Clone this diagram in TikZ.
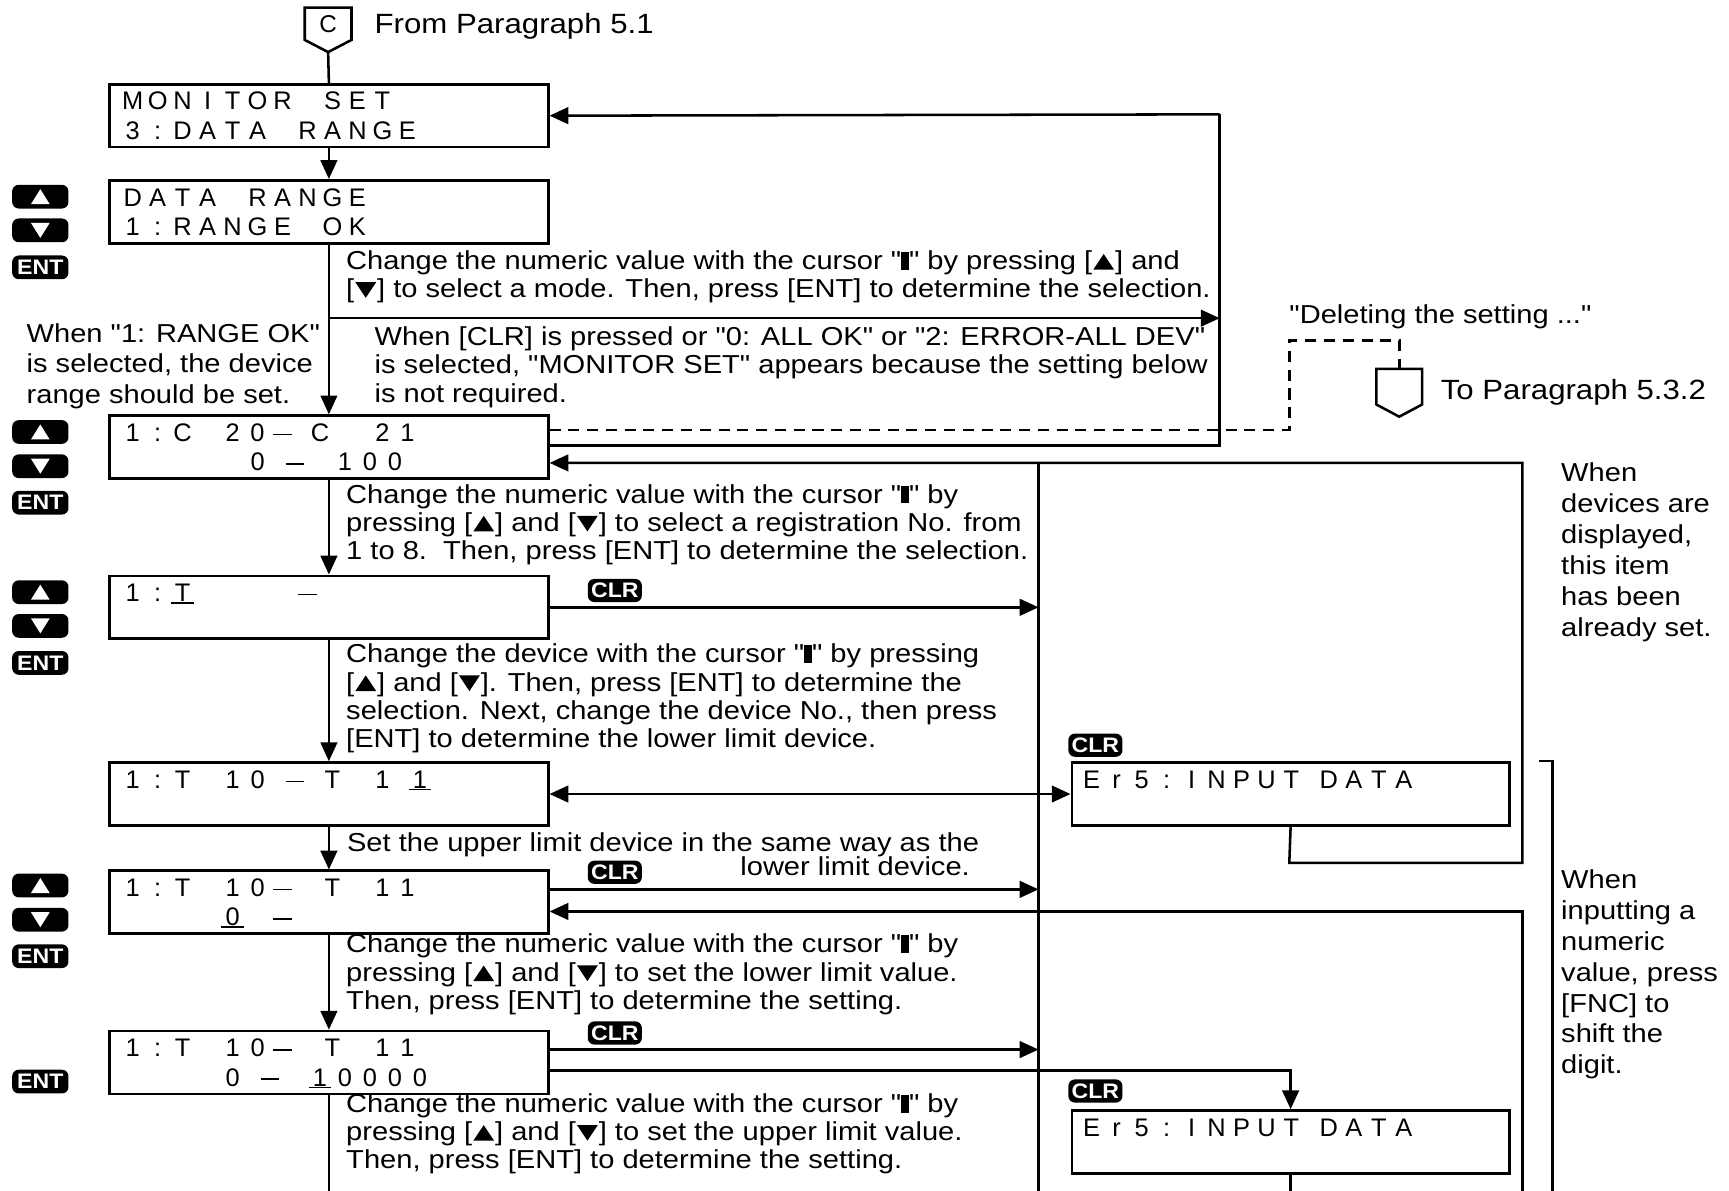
\documentclass[tikz,border=0pt]{standalone}
\usepackage{fontspec}
\setmainfont{Liberation Sans}
\newfontfamily\bodyfont{Liberation Sans}[FakeStretch=1.12]
\newfontfamily\lcdfont{Liberation Sans}
\newfontfamily\badgefont{Liberation Sans}[FakeStretch=1.1]
\usetikzlibrary{arrows.meta,calc}
\newlength\pitch \setlength\pitch{11.3pt}
\newcommand\hs{\hspace{0.5\pitch}}
\newcommand\dd{\rule[0.24em]{0.72em}{0.065em}}
\newcommand\cur[1]{\makebox[\pitch][c]{#1}\hspace{-\pitch}\makebox[\pitch][c]{\rule[-1pt]{0.9\pitch}{0.7pt}}}
\def\lcd#1{\lcdloop#1\relax}
\def\lcdloop#1{\ifx\relax#1\else\ifx\hs#1\hspace{0.5\pitch}\else\makebox[\pitch][c]{#1}\fi\expandafter\lcdloop\fi}
\newcommand\cursor{\rule{0.3em}{0.68em}}
\newcommand\tu{\kern0.04em\tikz[baseline=0pt,x=0.8em,y=0.6em,sharp corners]\fill[black](0,0)--(1,0)--(0.5,1)--cycle;\kern0.04em}
\newcommand\td{\kern0.04em\tikz[baseline=0pt,x=0.8em,y=0.6em,sharp corners]\fill[black](0,1)--(1,1)--(0.5,0)--cycle;\kern0.04em}
\newcommand\ku{\tikz[x=8.5pt,y=6.8pt,sharp corners]\fill[white](0,0)--(1,0)--(0.5,1)--cycle;}
\newcommand\kd{\tikz[x=8.5pt,y=6.8pt,sharp corners]\fill[white](0,1)--(1,1)--(0.5,0)--cycle;}
\newcommand\lines[1]{\begin{tabular}[t]{@{}l@{}}#1\end{tabular}}
\begin{document}
\begin{tikzpicture}[x=0.5pt,y=-0.5pt,line width=1.15pt,
  arr/.style={-{Triangle[length=8.5pt,width=7.5pt]}},
  arrb/.style={{Triangle[length=8.5pt,width=7.5pt]}-{Triangle[length=8.5pt,width=7.5pt]}},
  lcdbox/.style={draw,line width=1.2pt,minimum width=198.5pt,minimum height=28.5pt,anchor=north west,inner sep=0pt},
  lcdtxt/.style={anchor=base west,inner sep=0pt,font=\lcdfont\fontsize{11.5}{13}\selectfont},
  key/.style={fill=black,rounded corners=3pt,minimum width=25.5pt,minimum height=10.75pt,inner sep=0pt,text=white,font=\badgefont\bfseries\fontsize{9.5}{10}\selectfont},
  badge/.style={key,minimum width=24.5pt,minimum height=10.5pt},
  txt/.style={anchor=base west,inner sep=0pt,font=\bodyfont\fontsize{11.75}{12.75}\selectfont},
  txth/.style={anchor=base west,inner sep=0pt,font=\bodyfont\fontsize{12.6}{14}\selectfont},
  txtw/.style={anchor=base west,inner sep=0pt,font=\bodyfont\fontsize{11.75}{13.75}\selectfont},
  txtr/.style={anchor=base west,inner sep=0pt,font=\bodyfont\fontsize{11.75}{14}\selectfont}]
\useasboundingbox (0,0) rectangle (1565,1078);
\coordinate (bot) at (0,1078);

% connector C
\node[inner sep=0pt,minimum width=20pt,minimum height=13.5pt,font=\lcdfont\fontsize{11}{12}\selectfont] (cc) at (297,21.5) {C};
\coordinate (ctip) at ($(cc.south)+(0,11)$);
\draw (cc.north west) -- (cc.north east) -- (cc.south east) -- (ctip) -- (cc.south west) -- cycle;
\node[txth] (from) at (338,30) {From Paragraph 5.1};

% LCD boxes
\node[lcdbox] (b1) at (98,75) {};
\node[lcdbox] (b2) at (98,162) {};
\node[lcdbox] (b3) at (98,375) {};
\node[lcdbox] (b4) at (98,520) {};
\node[lcdbox] (b5) at (98,689) {};
\node[lcdbox] (b6) at (98,787) {};
\node[lcdbox] (b7) at (98,932) {};
\node[lcdbox,minimum width=198pt] (e1) at (969,689) {};
\node[lcdbox,minimum width=198pt] (e2) at (969,1004) {};

\node[lcdtxt] (b1a) at ($(b1.north west)+(9.7,24.5)$) {\lcd{MONITOR~SET}};
\node[lcdtxt] (b1b) at ($(b1.north west)+(9.7,51)$) {\lcd{3:DATA~RANGE}};
\node[lcdtxt] (b2a) at ($(b2.north west)+(9.7,24.5)$) {\lcd{DATA~RANGE}};
\node[lcdtxt] (b2b) at ($(b2.north west)+(9.7,51)$) {\lcd{1:RANGE~OK}};
\node[lcdtxt] (b3a) at ($(b3.north west)+(9.7,24.5)$) {\lcd{1:C~20\dd\hs C~\hs21}};
\node[lcdtxt] (b3b) at ($(b3.north west)+(9.7,51)$) {\lcd{~~~~~0\hs\dd~100}};
\node[lcdtxt] (b4a) at ($(b4.north west)+(9.7,24.5)$) {\lcd{1:{\cur T}~~~~\dd}};
\node[lcdtxt] (b5a) at ($(b5.north west)+(9.7,24.5)$) {\lcd{1:T~10\hs\dd\hs T~1\hs{\cur 1}}};
\node[lcdtxt] (b6a) at ($(b6.north west)+(9.7,24.5)$) {\lcd{1:T~10\dd~T~11}};
\node[lcdtxt] (b6b) at ($(b6.north west)+(9.7,51)$) {\lcd{~~~~{\cur 0}~\dd}};
\node[lcdtxt] (b7a) at ($(b7.north west)+(9.7,24.5)$) {\lcd{1:T~10\dd~T~11}};
\node[lcdtxt] (b7b) at ($(b7.north west)+(9.7,51)$) {\lcd{~~~~0\hs\dd~{\cur 1}0000}};
\node[lcdtxt] (e1a) at ($(e1.north west)+(6.7,24.5)$) {\lcd{Er5:INPUT\hs DATA}};
\node[lcdtxt] (e2a) at ($(e2.north west)+(6.7,24.5)$) {\lcd{Er5:INPUT\hs DATA}};

% keys
\foreach \n/\y in {1/178,2/391,3/536,4/801.5}{
  \node[key] (ku\n) at (36.5,\y) {\ku};
}
\node[key] (kd1) at (36.5,208.5) {\kd};
\node[key] (kd2) at (36.5,422) {\kd};
\node[key] (kd3) at (36.5,566.5) {\kd};
\node[key] (kd4) at (36.5,832.5) {\kd};
\node[key] (ke1) at (36.5,242) {ENT};
\node[key] (ke2) at (36.5,455) {ENT};
\node[key] (ke3) at (36.5,600) {ENT};
\node[key] (ke4) at (36.5,865.5) {ENT};
\node[key] (ke5) at (36.5,979) {ENT};

% CLR badges
\node[badge] (c1) at (556.5,534.5) {CLR};
\node[badge] (c2) at (556.5,789.5) {CLR};
\node[badge] (c3) at (556.5,935) {CLR};
\node[badge] (c4) at (991.5,674.5) {CLR};
\node[badge] (c5) at (991.5,987.5) {CLR};

% main flow
\draw (ctip) -- (b1.north);
\draw[arr] (b1.south) -- (b2.north);
\draw[arr] (b2.south) -- (b3.north);
\draw[arr] (b3.south) -- (b4.north);
\draw[arr] (b4.south) -- (b5.north);
\draw[arr] (b5.south) -- (b6.north);
\draw[arr] (b6.south) -- (b7.north);
\draw (b7.south) -- (b7.south |- bot);

% branch to MONITOR SET
\coordinate (j1) at (296.5,288);
\coordinate (r1) at (1104,288);
\coordinate (rt) at (1104,103.5);
\coordinate (rb) at (1104,403);
\draw[arr] (j1) -- (r1);
\draw[arr] (rt) -- (b1.east);
\draw (b3.east |- rb) -- (rb) -- (rt);

% dashed to paragraph 5.3.2
\node[inner sep=0pt,minimum width=19.5pt,minimum height=15pt] (p2) at (1266.5,350) {};
\coordinate (p2tip) at ($(p2.south)+(0,11)$);
\draw (p2.north west) -- (p2.north east) -- (p2.south east) -- (p2tip) -- (p2.south west) -- cycle;
\coordinate (d1) at (1167,389);
\coordinate (d2) at (1167,308);
\coordinate (d3) at (1266.5,308);
\draw[dashed,dash pattern=on 5pt off 3.5pt] (b3.east |- d1) -- (d1) -- (d2) -- (d3) -- (p2.north);
\node[txt] (del) at (1166,292.5) {"Deleting the setting ..."};
\node[txth] (to) at (1303,362) {To Paragraph 5.3.2};

% return loops
\coordinate (lp1) at (1167,781);
\coordinate (lp2) at (1378,781);
\coordinate (lp3) at (1378,419);
\draw[arr] (e1.south) -- (lp1) -- (lp2) -- (lp3) -- (b3.east |- lp3);
\coordinate (v1) at (940,419);
\draw (v1) -- (v1 |- bot);

\draw[arr] (b4.east) -- (b4.east -| v1);
\draw[arrb] (b5.east) -- (e1.west);
\coordinate (c6a) at ($(b6.north east)+(0,18)$);
\draw[arr] (c6a) -- (c6a -| v1);
\coordinate (lq1) at (1378,825);
\draw[arr] (lq1 |- bot) -- (lq1) -- (lq1 -| b6.east);
\coordinate (c7a) at ($(b7.north east)+(0,18)$);
\coordinate (c7b) at ($(b7.north east)+(0,37)$);
\draw[arr] (c7a) -- (c7a -| v1);
\draw[arr] (c7b) -- (c7b -| e2.north) -- (e2.north);
\draw (e2.south) -- (e2.south |- bot);

% bracket
\coordinate (br1) at (1393,689);
\coordinate (br2) at (1405,689);
\draw (br1) -- (br2) -- (br2 |- bot);

% texts
\node[txt] (tA) at (313,244) {\lines{Change the numeric value with the cursor "\cursor" by pressing [\tu] and\\
\relax[\td] to select a mode. Then, press [ENT] to determine the selection.}};
\node[txt] (tB) at (338,313) {\lines{When [CLR] is pressed or "0: ALL OK" or "2: ERROR-ALL DEV"\\
is selected, "MONITOR SET" appears because the setting below\\
is not required.}};
\node[txtw] (tL) at (23,310) {\lines{When "1: RANGE OK"\\ is selected, the device\\ range should be set.}};
\node[txt] (tC) at (313,455.5) {\lines{Change the numeric value with the cursor "\cursor" by\\
pressing [\tu] and [\td] to select a registration No. from\\
1 to 8.\ \ Then, press [ENT] to determine the selection.}};
\node[txt] (tD) at (313,600) {\lines{Change the device with the cursor "\cursor" by pressing\\
\relax[\tu] and [\td]. Then, press [ENT] to determine the\\
selection. Next, change the device No., then press\\
\relax[ENT] to determine the lower limit device.}};
\node[txt] (tE) at (313,771) {Set the upper limit device in the same way as the};
\node[txt] (tE2) at (669,792) {lower limit device.};
\node[txt] (tF) at (313,862.5) {\lines{Change the numeric value with the cursor "\cursor" by\\
pressing [\tu] and [\td] to set the lower limit value.\\
Then, press [ENT] to determine the setting.}};
\node[txt] (tG) at (313,1007) {\lines{Change the numeric value with the cursor "\cursor" by\\
pressing [\tu] and [\td] to set the upper limit value.\\
Then, press [ENT] to determine the setting.}};
\node[txtr] (tR1) at (1412,436) {\lines{When\\ devices are\\ displayed,\\ this item\\ has been\\ already set.}};
\node[txtr] (tR2) at (1412,804) {\lines{When\\ inputting a\\ numeric\\ value, press\\ \relax[FNC] to\\ shift the\\ digit.}};
\end{tikzpicture}
\end{document}
